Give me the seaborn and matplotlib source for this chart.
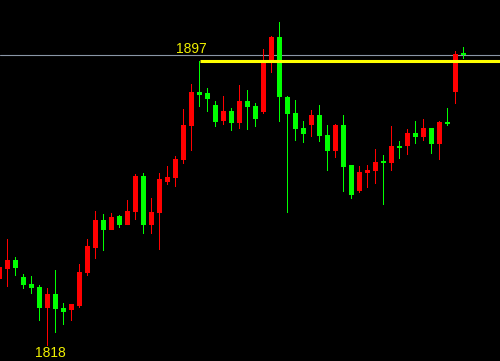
import matplotlib
matplotlib.use("Agg")
import matplotlib.pyplot as plt
import seaborn as sns
import numpy as np
import pandas as pd

# ---- data (price values) ----
opens = [1836.5, 1839.3, 1841.8, 1837.1, 1835.1, 1834.3, 1828.5, 1832.3, 1828.5, 1828.0,
         1829.0, 1838.2, 1845.2, 1852.9, 1850.2, 1854.0, 1851.6, 1855.2, 1865.1, 1851.6,
         1854.9, 1863.5, 1864.5, 1869.6, 1879.0, 1888.4, 1888.1, 1884.8, 1880.4, 1883.1,
         1879.9, 1885.9, 1884.5, 1882.9, 1897.1, 1903.7, 1887.0, 1882.6, 1878.4, 1879.3,
         1882.0, 1876.5, 1872.1, 1879.2, 1868.1, 1861.0, 1866.0, 1866.6, 1869.0, 1868.8,
         1873.5, 1873.5, 1877.0, 1876.0, 1878.4, 1874.1, 1880.1, 1888.5, 1898.9]
highs = [1839.9, 1847.6, 1842.6, 1837.9, 1837.3, 1834.8, 1834.0, 1839.0, 1829.8, 1829.6,
         1840.7, 1847.6, 1855.4, 1854.5, 1854.8, 1854.3, 1858.4, 1865.6, 1865.9, 1859.0,
         1865.9, 1867.9, 1870.6, 1883.7, 1890.6, 1897.0, 1889.5, 1885.9, 1887.4, 1884.0,
         1890.3, 1889.0, 1885.3, 1900.3, 1903.9, 1907.8, 1887.3, 1886.2, 1880.4, 1883.4,
         1884.8, 1879.2, 1879.5, 1882.0, 1868.1, 1867.9, 1868.1, 1872.6, 1870.9, 1879.0,
         1874.9, 1878.1, 1880.4, 1880.9, 1878.4, 1880.4, 1884.0, 1899.8, 1900.9]
lows = [1836.5, 1834.4, 1837.4, 1833.7, 1832.4, 1824.9, 1818.0, 1821.6, 1823.8, 1824.9,
        1828.5, 1837.4, 1842.1, 1844.4, 1850.2, 1850.7, 1851.6, 1853.0, 1849.1, 1849.1,
        1844.6, 1862.7, 1862.1, 1868.5, 1872.1, 1884.2, 1882.9, 1878.8, 1879.3, 1877.7,
        1878.2, 1877.9, 1878.8, 1882.4, 1893.8, 1880.2, 1854.9, 1874.9, 1874.3, 1876.0,
        1874.6, 1866.6, 1870.2, 1860.7, 1858.8, 1860.5, 1861.8, 1863.0, 1857.1, 1866.6,
        1869.9, 1871.0, 1874.1, 1874.9, 1871.3, 1869.6, 1879.0, 1885.2, 1897.6]
closes = [1839.9, 1841.8, 1839.6, 1834.9, 1834.1, 1828.5, 1832.3, 1828.3, 1827.4, 1829.6,
          1838.4, 1845.7, 1852.9, 1850.2, 1853.7, 1851.6, 1855.4, 1865.1, 1851.6, 1855.1,
          1864.3, 1864.8, 1869.8, 1879.2, 1888.4, 1887.6, 1886.5, 1880.2, 1883.1, 1879.9,
          1885.9, 1884.3, 1881.0, 1896.5, 1903.7, 1887.1, 1882.4, 1878.2, 1876.8, 1882.0,
          1876.3, 1872.1, 1879.2, 1867.7, 1859.9, 1866.2, 1866.8, 1869.0, 1868.8, 1873.4,
          1872.9, 1877.0, 1876.0, 1878.4, 1874.1, 1880.1, 1879.6, 1898.9, 1898.8]

ref_high = 1897      # yellow reference level
ref_high_idx = 25    # candle where the yellow line starts
low_label = 1818
low_label_idx = 6
last_price = closes[-1]

df = pd.DataFrame({"open": opens, "high": highs, "low": lows, "close": closes})
df["idx"] = np.arange(len(df))
df["up"] = df["close"] >= df["open"]

RED = "#ff0000"
GREEN = "#00ff00"
YELLOW = "#ffff00"

sns.set_theme(style="dark", rc={"axes.facecolor": "black", "figure.facecolor": "black"})
plt.rcParams["font.family"] = ["Liberation Sans", "DejaVu Sans"]

fig = plt.figure(figsize=(5.0, 3.61), dpi=100, facecolor="black")
ax = fig.add_axes([0, 0, 1, 1])
ax.set_facecolor("black")

colors = [RED if u else GREEN for u in df["up"]]

# last price line (gray), behind candles
ax.axhline(last_price, color="#8a96a6", lw=0.8, zorder=1)

# wicks (1 px wide, crisp)
ax.bar(df["idx"], df["high"] - df["low"], bottom=df["low"], width=0.14,
       color=colors, linewidth=0, antialiased=False, zorder=2)
# bodies (5 px wide, crisp)
body_bottom = np.minimum(df["open"], df["close"]).to_numpy()
body_top = np.maximum(np.maximum(df["open"], df["close"]).to_numpy(), body_bottom + 0.5)
ax.bar(df["idx"], body_top - body_bottom, bottom=body_bottom, width=0.6,
       color=colors, linewidth=0, antialiased=False, zorder=3)

# yellow reference line
ax.hlines(ref_high, ref_high_idx, len(df) + 10, colors=YELLOW, lw=2.2, zorder=4)

ax.text(ref_high_idx - 2.95, ref_high + 3.3, f"{ref_high}", color="#f0f000",
        fontsize=10, ha="left", va="center", zorder=5)
ax.text(low_label_idx - 1.6, low_label - 2.0, f"{low_label}", color="#f0f000",
        fontsize=10, ha="left", va="center", zorder=5)

ax.set_xlim(0.0625, 62.5625)
ax.set_ylim(1813.75, 1913.93)
ax.axis("off")

fig.savefig("out.png", dpi=100, facecolor="black")
